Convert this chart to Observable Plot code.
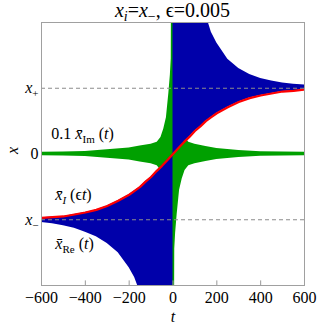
<!DOCTYPE html>
<html><head><meta charset="utf-8">
<script src="https://cdn.jsdelivr.net/npm/d3@7"></script>
<script src="https://cdn.jsdelivr.net/npm/@observablehq/plot@0.6"></script>
<style>
body{margin:0;background:#fff;}
#title{width:319px;box-sizing:border-box;padding-left:26px;height:20px;line-height:20px;text-align:center;font-family:"Liberation Serif",serif;font-size:20px;color:#000;white-space:nowrap;}
#title sub{font-size:0.7em;vertical-align:-0.25em;line-height:0;}
#chart svg{display:block;}
#chart svg text{font-family:"Liberation Serif",serif !important;}
#chart svg g[aria-label="x-axis tick label"], #chart svg g[aria-label="y-axis tick label"]{font-size:16px !important;}
#chart svg g[aria-label="x-axis tick label"] text, #chart svg g[aria-label="y-axis tick label"] text{font-size:16px !important;}
</style></head><body>
<div id="title"><i>x</i><sub><i>i</i></sub>=<i>x</i><sub>−</sub>, ϵ=0.005</div>
<div id="chart"></div>
<script>
// ---- data ----
const xTicks = [-600, -400, -200, 0, 200, 400, 600];
const yTicks = [-1, 0, 1];
const yTickKeys = ["XM", "0", "XP"];     // x_-, 0, x_+
const xMinus = -1, xPlus = 1;

// time grid (0 appears twice: the envelope jumps there)
const tGrid = [-600,-550,-500,-450,-400,-350,-300,-250,-200,-175,-150,-125,-100,-75,-50,-25,0,0,25,50,75,100,125,150,175,200,250,300,350,400,450,500,550,600];
// red curve  x̄_I(εt)
const xI = [-0.97,-0.96,-0.95,-0.92,-0.89,-0.85,-0.79,-0.71,-0.62,-0.56,-0.50,-0.42,-0.35,-0.26,-0.18,-0.09,0,0,0.09,0.18,0.26,0.35,0.42,0.50,0.56,0.62,0.71,0.79,0.85,0.89,0.92,0.95,0.96,0.98];
// outer envelope of the blue oscillation x̄_Re(t)
const xReEdge = [-1.04,-1.06,-1.09,-1.13,-1.19,-1.26,-1.36,-1.50,-1.73,-1.88,-2.1,-2.5,-3,-3,-3,-3,-3,3,3,3,3,3,2.5,2.12,1.85,1.69,1.44,1.30,1.21,1.15,1.11,1.08,1.06,1.05];

// green oscillation 0.1 x̄_Im(t): half-width of envelope
const gT = [-600,-500,-400,-300,-200,-150,-100,-72,-55,-42,-30,-19,-12,-8,-6.5,6.5,8,12,19,30,42,55,72,100,150,200,300,400,500,600];
const gHalf = [0.025,0.03,0.037,0.065,0.09,0.12,0.15,0.18,0.25,0.38,0.55,0.92,1.2,1.45,3,3,1.45,1.2,0.92,0.55,0.38,0.25,0.18,0.15,0.115,0.085,0.055,0.035,0.03,0.025];

// ---- build tables ----
const blue = tGrid.map((t, i) => ({t, a: xI[i], b: xReEdge[i]}));
const green = gT.map((t, i) => ({t, lo: -gHalf[i], hi: gHalf[i]}));

const labels = [
  {key: "LIM", t: -555, y: 0.30},
  {key: "LI",  t: -537, y: -0.62},
  {key: "LRE", t: -537, y: -1.36}
];

const fmt = d => d < 0 ? "\u2212" + (-d) : String(d);

const plot = Plot.plot({
  width: 319, height: 310,
  marginTop: 2, marginLeft: 41, marginRight: 15, marginBottom: 45,
  style: {fontFamily: "Liberation Serif, serif", fontSize: "16px", background: "white", color: "#000"},
  x: {domain: [-600, 600], ticks: xTicks, tickFormat: fmt, tickSize: 0, tickPadding: 6, label: null},
  y: {domain: [-2, 2], ticks: yTicks, tickFormat: d => yTickKeys[yTicks.indexOf(d)], tickSize: 0, tickPadding: 3, label: null},
  marks: [
    Plot.areaY(green, {x: "t", y1: "lo", y2: "hi", fill: "#00a000", clip: true}),
    Plot.areaY(blue, {x: "t", y1: "a", y2: "b", fill: "#0000aa", clip: true}),
    Plot.line(blue, {x: "t", y: "a", stroke: "#ff0000", strokeWidth: 2.2, clip: true}),
    Plot.ruleY([xMinus, xPlus], {stroke: "#8c8c8c", strokeWidth: 1.2, strokeDasharray: "4,3"}),
    Plot.ruleX(xTicks, {x: d => d, y1: -2, y2: -1.93, stroke: "#999"}),
    Plot.frame({stroke: "#a0a0a0"}),
    Plot.text(labels, {x: "t", y: "y", text: "key", textAnchor: "start", fontSize: 16, fill: "#000"}),
    Plot.text(["t"], {text: d => d, frameAnchor: "bottom", dy: 36, fontStyle: "italic", fontSize: 16, fill: "#000"}),
    Plot.text(["x"], {text: d => d, frameAnchor: "left", dx: -29, rotate: -90, fontStyle: "italic", fontSize: 16, fill: "#000"})
  ]
});
document.getElementById("chart").appendChild(plot);

// ---- rich text (italics, subscripts, overbars) ----
const SVGNS = "http://www.w3.org/2000/svg";
function rich(el, parts, size) {
  el.textContent = "";
  let shifted = 0;
  parts.forEach(p => {
    const ts = document.createElementNS(SVGNS, "tspan");
    ts.textContent = p.t;
    if (p.i) ts.setAttribute("font-style", "italic");
    const want = p.sub ? Math.round(size * 0.28) : 0;
    if (want !== shifted) { ts.setAttribute("dy", want - shifted); shifted = want; }
    if (p.sub) ts.setAttribute("font-size", Math.round(size * 0.7));
    el.appendChild(ts);
  });
}
const xbar = "x\u0304";
const richMap = {
  "XP": [{t: "x", i: 1}, {t: "+", sub: 1}],
  "XM": [{t: "x", i: 1}, {t: "\u2212", sub: 1}],
  "LIM": [{t: "0.1 "}, {t: xbar, i: 1}, {t: "Im", sub: 1}, {t: " ("}, {t: "t", i: 1}, {t: ")"}],
  "LI": [{t: xbar, i: 1}, {t: "I", sub: 1, i: 1}, {t: " ("}, {t: "\u03f5"}, {t: "t", i: 1}, {t: ")"}],
  "LRE": [{t: xbar, i: 1}, {t: "Re", sub: 1}, {t: " ("}, {t: "t", i: 1}, {t: ")"}]
};
d3.select(plot).selectAll("text").each(function () {
  const k = this.textContent;
  if (richMap[k]) rich(this, richMap[k], 16);
});
</script></body></html>
